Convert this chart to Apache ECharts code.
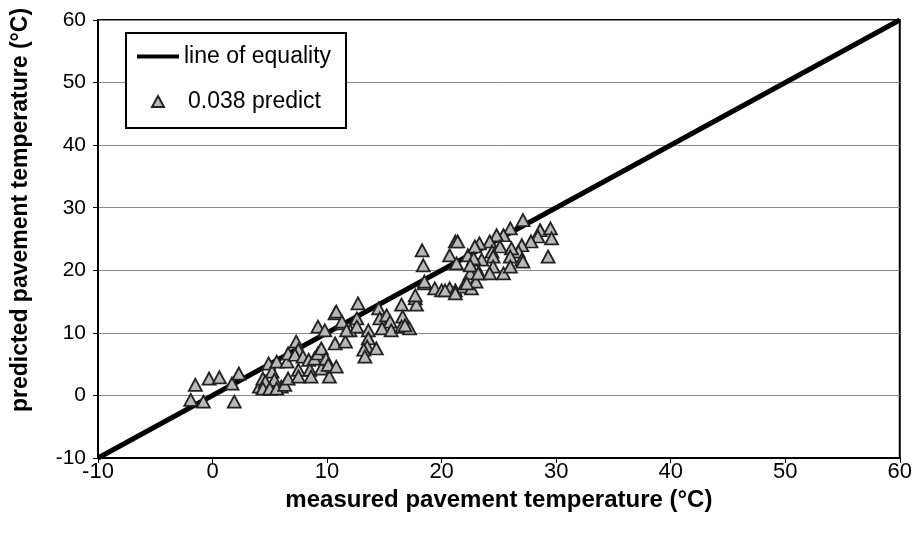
<!DOCTYPE html>
<html><head><meta charset="utf-8">
<script src="https://cdn.jsdelivr.net/npm/echarts@6/dist/echarts.min.js"></script>
<style>html,body{margin:0;padding:0;background:#fff}#c{width:915px;height:536px}</style>
</head><body><div id="c"></div>
<script>
var equalityLine = [[-10, -10], [60, 60]];
var measured = [
 -1.5,-1.9,-0.8,-0.3,0.6,1.9,1.7,2.3,4.1,4.9,5.2,5.4,5.0,4.4,6.0,5.6,
 4.6,5.4,4.4,5.0,5.6,6.3,6.6,6.5,6.6,7.3,7.5,7.2,7.5,7.5,7.9,8.4,8.5,8.6,8.9,9.2,
 9.2,9.8,9.5,9.5,9.9,10.2,10.1,10.7,10.8,10.7,11.3,11.6,12.0,12.6,
 10.8,12.7,11.3,11.7,12.6,14.5,14.6,15.2,15.5,13.6,13.6,13.5,14.3,13.2,14.8,15.6,
 16.5,16.6,16.5,17.2,17.7,17.8,18.5,16.8,13.3,
 18.3,18.4,18.5,17.7,19.4,20.0,20.7,21.2,21.9,22.6,20.7,21.3,21.2,21.4,22.3,22.5,22.9,23.0,
 27.1,26.0,25.4,24.8,24.2,23.3,22.9,28.6,29.5,29.6,28.4,27.8,29.3,27.0,26.7,26.1,26.0,
 25.1,24.4,24.5,23.5,22.8,27.0,22.5,23.3,24.5,25.4,26.0,24.2,
 22.2,23.2,20.3,21.2,27.1
];
var predicted = [
 1.7,-0.7,-1.0,2.7,2.9,-1.0,1.9,3.5,1.4,5.1,3.8,2.2,1.1,2.7,1.4,5.4,
 2.2,2.5,1.1,1.1,1.1,1.7,2.7,5.4,6.7,8.6,7.3,6.5,4.1,3.0,6.2,5.7,4.1,3.0,5.9,6.7,
 11.0,10.4,7.5,4.3,5.9,3.0,4.9,8.3,4.6,13.1,11.5,8.6,10.4,12.3,
 13.4,14.7,11.8,10.4,11.0,13.9,12.3,12.8,11.8,10.4,9.1,7.8,7.5,7.3,10.7,10.4,
 14.5,12.6,11.0,10.7,15.5,14.5,17.9,11.2,6.2,
 23.2,20.8,18.2,16.0,17.1,16.8,17.1,16.8,17.4,17.1,22.4,21.1,24.6,24.6,22.4,19.5,20.8,18.2,
 28.0,26.7,25.6,25.6,24.6,24.3,23.8,26.4,26.7,25.1,25.4,24.6,22.2,24.0,23.0,23.5,22.2,
 23.8,23.0,22.2,21.7,21.9,21.7,20.8,19.5,20.6,19.5,20.6,19.5,
 17.9,19.5,16.8,16.3,21.4
];
var xTicks = [-10, 0, 10, 20, 30, 40, 50, 60];
var yTicks = [-10, 0, 10, 20, 30, 40, 50, 60];

var pts = measured.map(function (m, i) { return [m, predicted[i]]; });
var chart = echarts.init(document.getElementById('c'));
var font = 'Liberation Sans, Arial, sans-serif';
chart.setOption({
  animation: false,
  grid: { left: 98, right: 15, top: 20, bottom: 78, show: true, borderColor: '#000', borderWidth: 2 },
  graphic: [{
    type: 'rect', left: 125, top: 32, z: 10,
    shape: { width: 220, height: 95 },
    style: { fill: '#fff', stroke: '#000', lineWidth: 2 }
  }],
  legend: [{
    left: 137, top: 45, z: 11, padding: 0,
    textStyle: { fontFamily: font, fontSize: 23, color: '#000' },
    icon: 'rect', itemWidth: 42, itemHeight: 4,
    data: [{ name: 'line of equality', itemStyle: { color: '#000' } }]
  }, {
    left: 151, top: 90, z: 11, padding: 0,
    textStyle: { fontFamily: font, fontSize: 23, color: '#000', padding: [0, 0, 0, 19] },
    icon: 'triangle', itemWidth: 12, itemHeight: 11,
    data: ['0.038 predict']
  }],
  xAxis: {
    type: 'value', min: xTicks[0], max: xTicks[xTicks.length - 1], interval: 10,
    name: 'measured pavement temperature (°C)', nameLocation: 'middle', nameGap: 27,
    nameTextStyle: { fontFamily: font, fontSize: 24, fontWeight: 'bold', color: '#000' },
    axisLine: { onZero: false, lineStyle: { color: '#000', width: 2 } },
    axisTick: { show: true, length: 5, lineStyle: { color: '#000' } },
    axisLabel: { fontFamily: font, fontSize: 22, color: '#000', margin: 3 },
    splitLine: { show: false }
  },
  yAxis: {
    type: 'value', min: yTicks[0], max: yTicks[yTicks.length - 1], interval: 10,
    name: 'predicted pavement temperature (°C)', nameLocation: 'middle', nameGap: 66,
    nameTextStyle: { fontFamily: font, fontSize: 23, fontWeight: 'bold', color: '#000', padding: [0, 0, 0, 58] },
    axisLine: { onZero: false, lineStyle: { color: '#000', width: 2 } },
    axisTick: { show: true, length: 5, lineStyle: { color: '#000' } },
    axisLabel: { fontFamily: font, fontSize: 21, color: '#000', margin: 12 },
    splitLine: { show: true, lineStyle: { color: '#8a8a8a', width: 1 } }
  },
  series: [
    {
      name: 'line of equality', type: 'line', data: equalityLine, symbol: 'none',
      lineStyle: { color: '#000', width: 5 }, itemStyle: { color: '#000' }, z: 3
    },
    {
      name: '0.038 predict', type: 'scatter', data: pts, symbol: 'triangle', symbolSize: [13, 12],
      itemStyle: { color: '#b8b8b8', borderColor: '#222', borderWidth: 1.8, opacity: 1 }, z: 4
    }
  ]
});
</script></body></html>
